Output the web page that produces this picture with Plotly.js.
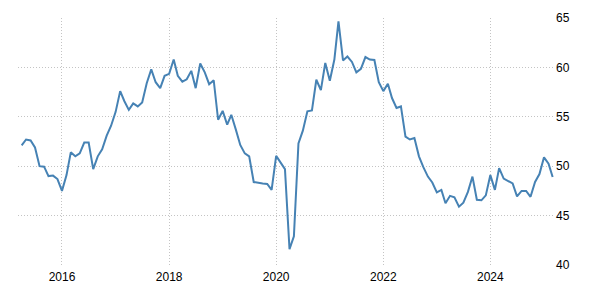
<!DOCTYPE html>
<html>
<head>
<meta charset="utf-8">
<script src="https://cdn.plot.ly/plotly-3.0.1.min.js"></script>
<style>html,body{margin:0;padding:0;background:#fff}#chart{width:600px;height:300px}</style>
</head>
<body>
<div id="chart"></div>
<script>
// Monthly values, Apr 2015 .. Mar 2025
const startYear = 2015;
const startMonth = 4;
const values = [
  52.1, 52.7, 52.6, 51.9, 50.0, 49.95, 49.0, 49.05, 48.7,            // 2015 Apr-Dec
  47.5, 49.1, 51.4, 51.0, 51.3, 52.4, 52.4, 49.7, 51.0, 51.7, 53.1, 54.1, // 2016
  55.5, 57.6, 56.6, 55.7, 56.35, 56.05, 56.45, 58.4, 59.8, 58.5, 57.9, 59.15, // 2017
  59.35, 60.8, 59.15, 58.55, 58.8, 59.65, 57.9, 60.4, 59.5, 58.3, 58.7, 54.7, // 2018
  55.6, 54.2, 55.2, 53.7, 52.15, 51.3, 51.0, 48.4, 48.3, 48.25, 48.2, 47.6, // 2019
  51.05, 50.3, 49.7, 41.6, 42.9, 52.3, 53.6, 55.55, 55.65, 58.75, 57.7, 60.45, // 2020
  58.65, 60.8, 64.65, 60.7, 61.1, 60.55, 59.5, 59.85, 61.05, 60.8, 60.75, 58.5, // 2021
  57.6, 58.35, 56.9, 55.9, 56.05, 53.0, 52.7, 52.85, 51.0, 49.9, 48.95, 48.35, // 2022
  47.35, 47.6, 46.25, 47.0, 46.85, 45.9, 46.3, 47.4, 48.95, 46.6, 46.55, 47.05, // 2023
  49.1, 47.6, 49.8, 48.75, 48.5, 48.25, 46.95, 47.5, 47.5, 46.9, 48.4, 49.2, // 2024
  50.9, 50.25, 48.9                                                    // 2025
];
const yTicks = [40, 45, 50, 55, 60, 65];
const xTickYears = [2016, 2018, 2020, 2022, 2024];

const dates = values.map((v, i) => {
  const m0 = startMonth - 1 + i;
  const y = startYear + Math.floor(m0 / 12);
  const m = (m0 % 12) + 1;
  return y + '-' + String(m).padStart(2, '0') + '-01';
});

const trace = {
  x: dates, y: values, type: 'scatter', mode: 'lines',
  line: {color: '#4682b4', width: 2}, hoverinfo: 'skip'
};

const layout = {
  width: 600, height: 300,
  margin: {l: 18, r: 45, t: 18, b: 35},
  paper_bgcolor: '#fff', plot_bgcolor: '#fff',
  showlegend: false,
  font: {family: 'Liberation Sans, Arial, sans-serif', size: 12, color: '#000'},
  xaxis: {
    type: 'date',
    range: ['2015-03-07', '2025-03-17'],
    tickvals: xTickYears.map(y => y + '-01-01'),
    ticktext: xTickYears.map(String),
    showgrid: true, gridcolor: '#c4c4c4', griddash: '1px,2px', gridwidth: 1,
    showline: false, zeroline: false, ticks: '',
    ticklabelstandoff: 3,
    tickfont: {size: 12, color: '#000'}
  },
  yaxis: {
    side: 'right',
    range: [40, 65],
    tickvals: yTicks,
    ticktext: yTicks.map(String),
    showgrid: true, gridcolor: '#c4c4c4', griddash: '1px,2px', gridwidth: 1,
    showline: false, zeroline: false, ticks: '',
    tickfont: {size: 12, color: '#000'}
  }
};

Plotly.newPlot('chart', [trace], layout, {staticPlot: true, displayModeBar: false});
</script>
</body>
</html>
